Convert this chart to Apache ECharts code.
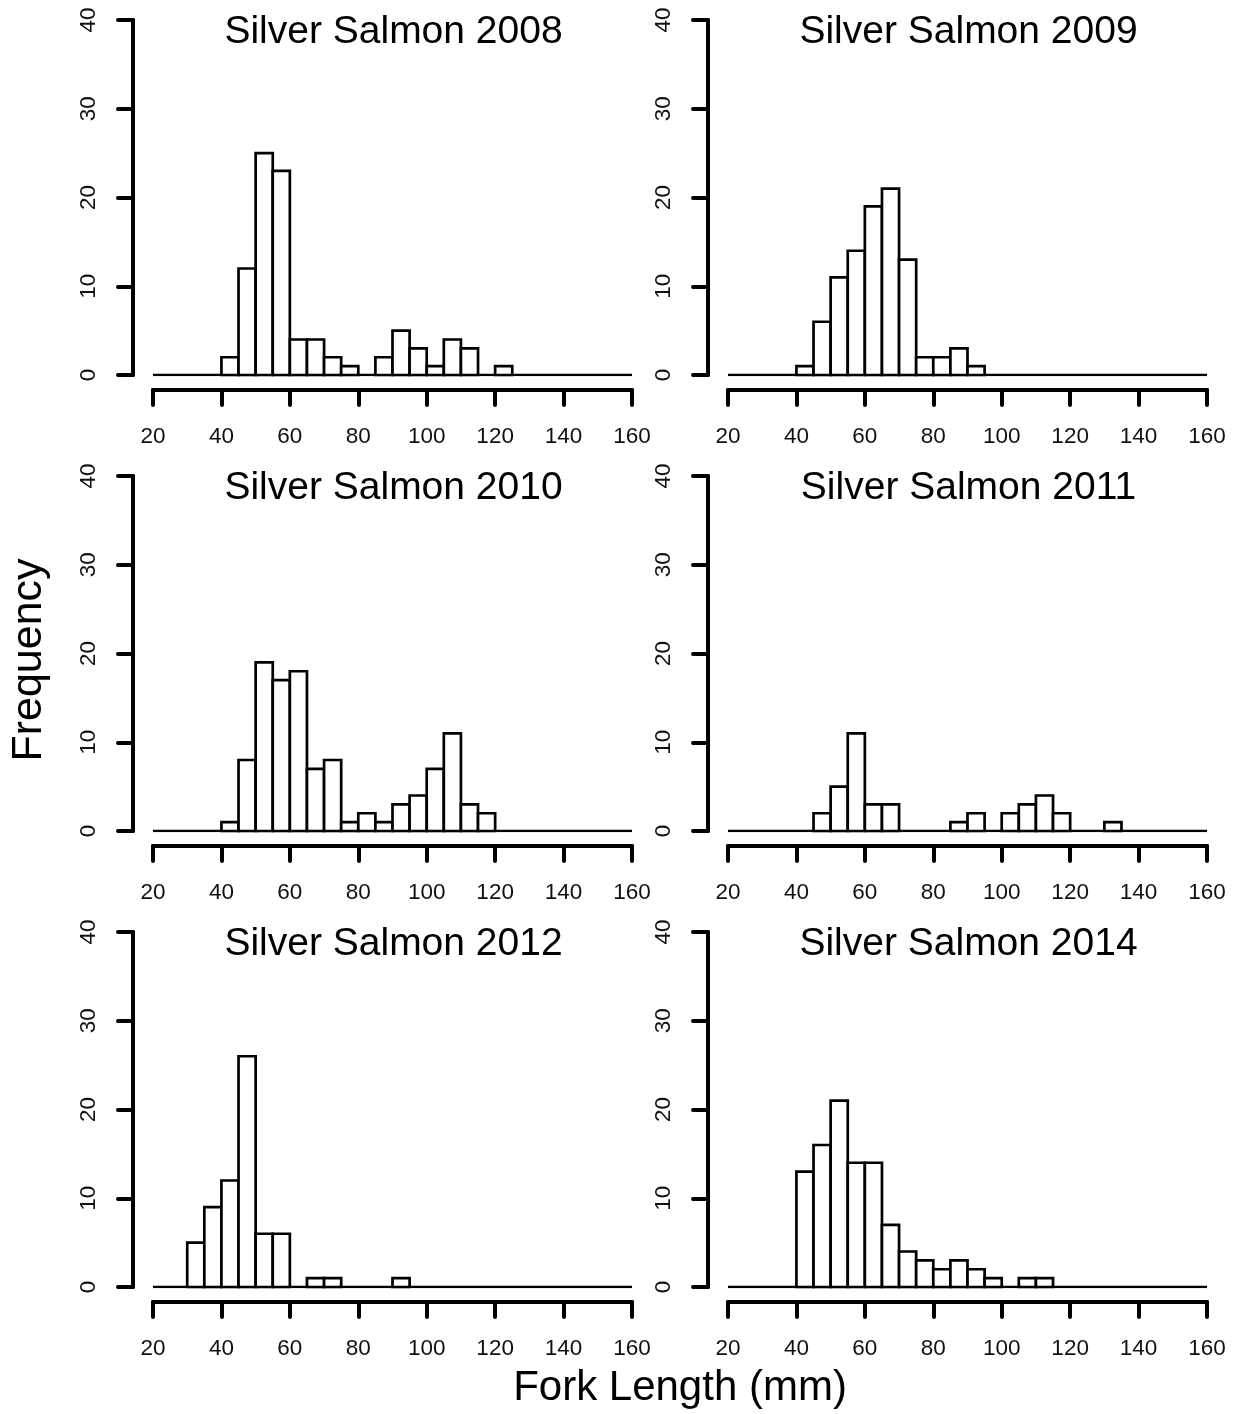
<!DOCTYPE html>
<html>
<head>
<meta charset="utf-8">
<script src="https://cdn.jsdelivr.net/npm/echarts@6/dist/echarts.min.js"></script>
<style>
html,body{margin:0;padding:0;background:#fff;}
#chart{width:1235px;height:1414px;}
</style>
</head>
<body>
<div id="chart"></div>
<script>
// ---- data ----
const panelTitles = ['Silver Salmon 2008','Silver Salmon 2009','Silver Salmon 2010','Silver Salmon 2011','Silver Salmon 2012','Silver Salmon 2014'];
const binWidth = 5;
const binStarts = [40, 40, 40, 45, 30, 40];
const counts2008 = [2,12,25,23,4,4,2,1,0,2,5,3,1,4,3,0,1];
const counts2009 = [1,6,11,14,19,21,13,2,2,3,1];
const counts2010 = [1,8,19,17,18,7,8,1,2,1,3,4,7,11,3,2];
const counts2011 = [2,5,11,3,3,0,0,0,1,2,0,2,3,4,2,0,0,1];
const counts2012 = [5,9,12,26,6,6,0,1,1,0,0,0,1];
const counts2014 = [13,16,21,14,14,7,4,3,2,3,2,1,0,1,1];
const xTickLabels = [20,40,60,80,100,120,140,160];
const yTickLabels = [0,10,20,30,40];
const xAxisTitle = 'Fork Length (mm)';
const yAxisTitle = 'Frequency';

const allCounts = [counts2008, counts2009, counts2010, counts2011, counts2012, counts2014];

// ---- layout ----
const FONT = '"Liberation Sans", Arial, sans-serif';
const colLeft = [153, 728];
const rowTop = [20, 476, 932];
const gW = 479, gH = 355;

const grids = [], xAxes = [], yAxes = [], series = [], titles = [];
for (let p = 0; p < 6; p++) {
  const c = p % 2, r = Math.floor(p / 2);
  grids.push({left: colLeft[c], top: rowTop[r], width: gW, height: gH, containLabel: false});
  xAxes.push({
    gridIndex: p, type: 'value',
    min: xTickLabels[0], max: xTickLabels[xTickLabels.length - 1],
    interval: xTickLabels[1] - xTickLabels[0],
    offset: 15,
    axisLine: {show: true, onZero: false, lineStyle: {color: '#000', width: 4, cap: 'round'}},
    axisTick: {show: true, length: 15, lineStyle: {color: '#000', width: 4, cap: 'round'}},
    axisLabel: {color: '#111', fontSize: 22.5, fontFamily: FONT, margin: 35},
    splitLine: {show: false}
  });
  yAxes.push({
    gridIndex: p, type: 'value',
    min: yTickLabels[0], max: yTickLabels[yTickLabels.length - 1],
    interval: yTickLabels[1] - yTickLabels[0],
    offset: 20,
    axisLine: {show: true, onZero: false, lineStyle: {color: '#000', width: 4, cap: 'round'}},
    axisTick: {show: true, length: 15, lineStyle: {color: '#000', width: 4, cap: 'round'}},
    axisLabel: {color: '#111', fontSize: 22.5, fontFamily: FONT, margin: 33, rotate: 90},
    splitLine: {show: false}
  });
  const data = allCounts[p].map((v, i) => [binStarts[p] + i * binWidth, binStarts[p] + (i + 1) * binWidth, v]);
  series.push({
    type: 'line', xAxisIndex: p, yAxisIndex: p, silent: true,
    data: [[xTickLabels[0], 0], [xTickLabels[xTickLabels.length - 1], 0]],
    symbol: 'none', lineStyle: {color: '#000', width: 2.7}, z: 1
  });
  series.push({
    type: 'custom', xAxisIndex: p, yAxisIndex: p, z: 2,
    data: data,
    encode: {x: [0, 1], y: 2},
    renderItem: function (params, api) {
      const x0 = api.value(0), x1 = api.value(1), y = api.value(2);
      if (!y) return null;
      const a = api.coord([x0, y]);
      const b = api.coord([x1, 0]);
      return {
        type: 'rect',
        shape: {x: a[0], y: a[1], width: b[0] - a[0], height: b[1] - a[1]},
        style: {fill: '#fff', stroke: '#000', lineWidth: 2.7, lineJoin: 'miter'}
      };
    }
  });
  titles.push({
    text: panelTitles[p], left: colLeft[c] + gW / 2 - 4, top: rowTop[r] - 12, textAlign: 'center',
    textStyle: {color: '#000', fontSize: 39, fontWeight: 'normal', fontFamily: FONT}
  });
}

const chart = echarts.init(document.getElementById('chart'), null, {renderer: 'canvas'});
chart.setOption({
  backgroundColor: '#fff',
  animation: false,
  title: titles,
  grid: grids,
  xAxis: xAxes,
  yAxis: yAxes,
  series: series,
  graphic: [
    {type: 'text', x: 29, y: 660, rotation: Math.PI / 2,
     style: {text: yAxisTitle, fill: '#000', font: '43px ' + FONT, textAlign: 'center', textVerticalAlign: 'middle'}},
    {type: 'text', x: 680, y: 1388,
     style: {text: xAxisTitle, fill: '#000', font: '42px ' + FONT, textAlign: 'center', textVerticalAlign: 'middle'}}
  ]
});
</script>
</body>
</html>
